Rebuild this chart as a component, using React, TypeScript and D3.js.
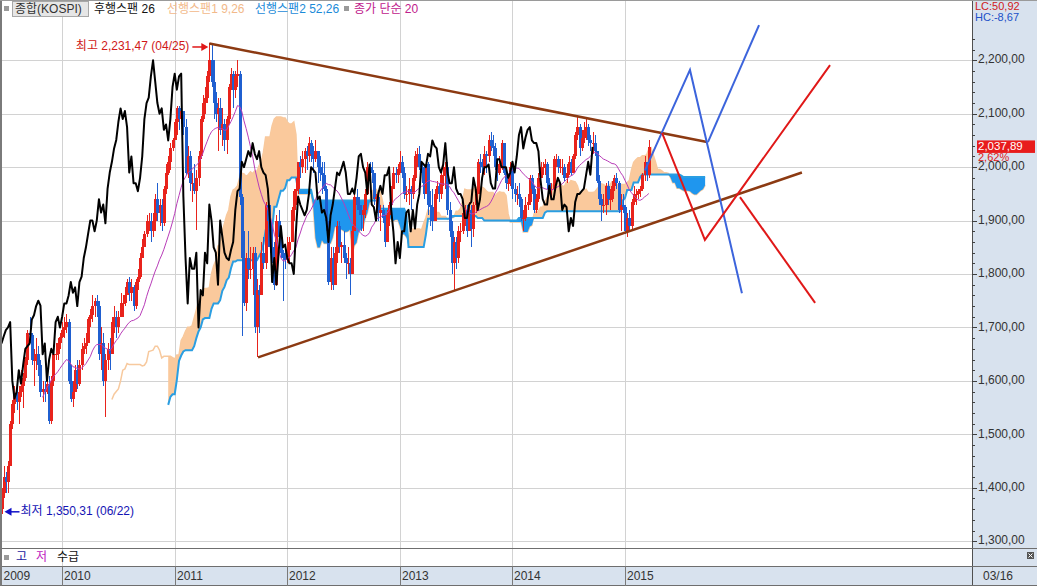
import React from 'react';
import * as d3 from 'd3';

// ---------- DATA (weekly KOSPI, from 2009-06-22) ----------
const START = new Date(2009, 5, 22);
const firstOpen = 1360;
const closes = [
  1390,1420,1410,1440,1520,1557,1575,1560,1580,1590,1605,1640,1690,1685,1640,1640,1650,1630,1580,1585,1580,1595,1525,1600,1650,1650,1670,1683,
  1695,1700,1710,1600,1567,1580,1620,1595,1630,1660,1665,1670,1715,1723,1740,1750,1741,1650,1670,1600,1640,1660,1650,1710,1720,1700,1720,1745,1745,1760,1785,1765,1775,1740,1785,1795,1830,1850,1875,1900,1900,1880,1900,1940,1915,1930,1895,1960,1990,2010,2035,2051,
  2085,2110,2090,2105,2075,1990,2020,1970,1970,1955,1980,2020,2090,2120,2130,2170,2200,2160,2120,2100,2110,2070,2080,2050,2090,2150,2175,2145,2170,2175,1945,1830,1745,1830,1810,1810,1840,1700,1770,1760,1840,1820,1930,1900,1850,1840,1780,1900,1870,1840,1830,1826,
  1845,1860,1920,1955,1960,2010,2000,2015,2030,2020,2045,2025,2015,2030,2000,1990,1985,1960,1900,1785,1830,1780,1840,1890,1850,1855,1830,1820,1820,1800,1880,1945,1930,1920,1910,1920,1950,2000,1995,1990,1940,1945,1915,1920,1905,1860,1910,1930,1960,1990,1985,1997,
  2010,1990,1950,1950,1960,1950,1980,2020,2025,2000,1990,1950,2005,1930,1925,1900,1950,1965,1950,1985,1985,2000,1920,1880,1820,1860,1830,1880,1880,1915,1920,1880,1920,1885,1930,1950,2010,2005,2000,2025,2020,2050,2040,2035,2000,1990,2005,2045,1990,1970,1970,2000,
  1960,1950,1950,1940,1905,1905,1930,1935,1980,1960,1920,1940,1980,2000,2000,2005,1970,1960,1960,2015,2015,2000,2000,2000,1980,1990,2010,1990,2020,2060,2075,2035,2055,2070,2075,2050,2045,2045,2030,1975,1940,1930,1930,1965,1940,1940,1965,1980,1970,1920,1930,1925,
  1880,1905,1890,1935,1950,1950,1955,1960,1985,2010,1986,2037.89,
];
const highs = [
  1400,1440,1430,1450,1525,1565,1590,1585,1590,1620,1615,1645,1695,1720,1690,1660,1680,1665,1640,1600,1600,1620,1610,1610,1655,1670,1680,1690,
  1710,1720,1725,1715,1630,1600,1630,1640,1640,1670,1680,1690,1720,1735,1760,1755,1760,1750,1700,1690,1650,1670,1680,1720,1740,1730,1730,1765,1760,1775,1790,1795,1790,1780,1790,1810,1840,1865,1880,1910,1915,1915,1915,1950,1970,1940,1940,1965,2005,2020,2045,2055,
  2090,2115,2115,2120,2105,2090,2040,2030,1990,2005,1995,2030,2095,2135,2150,2180,2231.47,2230,2200,2140,2130,2130,2110,2090,2095,2155,2185,2180,2180,2200,2180,1950,1880,1840,1880,1850,1850,1850,1790,1780,1860,1870,1935,1940,1930,1890,1860,1910,1920,1880,1845,1850,
  1870,1870,1925,1960,1980,2010,2020,2030,2035,2040,2057,2050,2040,2050,2030,2020,2010,2010,1965,1900,1850,1850,1850,1900,1900,1860,1880,1840,1850,1830,1890,1950,1960,1945,1930,1930,1960,2010,2010,2010,1990,1950,1950,1930,1930,1910,1920,1935,1965,2000,2000,2005,
  2030,2020,2000,1965,1980,1965,1985,2030,2035,2040,2010,2000,2015,2010,1955,1960,1960,1975,1970,1995,2010,2010,2010,1935,1900,1870,1870,1890,1895,1920,1930,1930,1935,1930,1935,1960,2015,2025,2015,2040,2030,2060,2065,2060,2045,2015,2020,2050,2045,2000,1985,2010,
  2010,1970,1965,1970,1945,1920,1945,1950,1985,1985,1965,1950,1990,2010,2010,2015,2010,1980,1970,2020,2025,2020,2015,2015,2005,2005,2020,2015,2025,2065,2093,2080,2070,2085,2090,2080,2060,2065,2060,2030,1985,1950,1950,1970,1975,1960,1975,1985,1990,1975,1950,1950,
  1930,1915,1920,1940,1965,1960,1960,1965,1990,2020,2005,2050,
];
const lows = [
  1350.31,1380,1390,1390,1440,1510,1540,1545,1520,1570,1550,1600,1630,1670,1630,1590,1620,1610,1570,1560,1560,1575,1520,1520,1590,1640,1640,1660,
  1680,1680,1690,1595,1560,1552,1580,1585,1590,1620,1650,1650,1670,1700,1710,1720,1720,1640,1620,1590,1532,1620,1620,1650,1690,1680,1690,1720,1720,1740,1760,1750,1750,1730,1735,1770,1790,1830,1850,1870,1880,1860,1870,1880,1900,1890,1880,1890,1950,1985,1995,2030,
  2050,2060,2070,2080,2060,1985,1980,1955,1935,1950,1882,1965,2015,2085,2100,2120,2160,2150,2090,2085,2030,2060,2040,2030,2025,2080,2145,2110,2130,2150,1930,1684,1740,1730,1790,1790,1760,1690,1644,1690,1770,1810,1810,1850,1840,1820,1770,1790,1850,1830,1750,1810,
  1820,1820,1860,1900,1930,1950,1980,1990,1990,1995,2010,2010,1990,2010,1970,1975,1950,1955,1880,1780,1770,1770,1780,1820,1840,1820,1820,1790,1800,1760,1800,1880,1920,1910,1880,1880,1905,1980,1970,1970,1930,1915,1900,1880,1895,1850,1870,1890,1925,1960,1970,1970,
  1990,1980,1940,1935,1930,1920,1940,1975,2000,1995,1970,1940,1950,1910,1890,1880,1900,1940,1935,1940,1965,1960,1910,1870,1800,1770,1810,1820,1860,1875,1890,1870,1880,1850,1870,1915,1950,1990,1990,1985,1990,2010,2030,2020,1995,1975,1985,1995,1985,1960,1955,1965,
  1940,1935,1930,1925,1900,1880,1900,1920,1930,1950,1915,1915,1935,1980,1985,1985,1960,1950,1940,1955,2000,1990,1990,1985,1975,1970,1985,1985,1990,2015,2050,2020,2030,2045,2050,2040,2030,2025,2020,1970,1930,1900,1915,1910,1930,1920,1935,1955,1960,1915,1880,1915,
  1875,1870,1880,1885,1930,1930,1940,1945,1955,1975,1975,1980,
];

const priceTicks = [1300, 1400, 1500, 1600, 1700, 1800, 1900, 2000, 2100, 2200];
const yearLabels = ['2009', '2010', '2011', '2012', '2013', '2014', '2015'];
const lastDateLabel = '03/16';
const highLabel = '최고 2,231,47 (04/25)';
const lowLabel = '최저 1,350,31 (06/22)';
const highWeek = 96;
const lowWeek = 0;
const lcText = 'LC:50,92';
const hcText = 'HC:-8,67';
const changeText = '2,62%';
const legendItems = [
  { text: '후행스팬 26', color: '#111111', x: 94 },
  { text: '선행스팬1 9,26', color: '#f2b98a', x: 167 },
  { text: '선행스팬2 52,26', color: '#1a8ad8', x: 255 },
  { text: '종가 단순 20', color: '#c0208c', x: 354 },
];
// user-drawn lines: [week index, price]
const trendLines = [
  { color: '#8c3a12', width: 2.5, pts: [[96, 2231.47], [325.9, 2047]] },
  { color: '#8c3a12', width: 2.5, pts: [[118.5, 1644], [369.7, 1990]] },
  { color: '#3c64dc', width: 2, pts: [[297.2, 1994], [318, 2182], [342, 1764]] },
  { color: '#3c64dc', width: 2, pts: [[326.3, 2047], [349.9, 2266]] },
  { color: '#e01818', width: 2, pts: [[305.1, 2064], [324.9, 1864], [382.7, 2191]] },
  { color: '#e01818', width: 2, pts: [[341.1, 1944], [375.8, 1746]] },
];

// ---------- LAYOUT ----------
const W = 1037, H = 586;
const PLOT_L = 2, PLOT_R = 972, PLOT_B = 548, SUB_B = 566;
const FONT = '"Liberation Sans", Arial, "Noto Sans CJK KR", sans-serif';
const RED = '#e8231c', BLUE = '#1f5fd0';

export default function App() {
  const n = closes.length;
  const x = d3.scaleLinear().domain([0, 100]).range([1.5, 1.5 + 216.5]);
  const y = d3.scaleLinear().domain([1300, 2200]).range([541.2, 60.3]);

  const opens = closes.map((c, i) => (i === 0 ? firstOpen : closes[i - 1]));
  const hi = (a: number, b: number) => d3.max(highs.slice(a, b + 1)) as number;
  const lo = (a: number, b: number) => d3.min(lows.slice(a, b + 1)) as number;

  // Ichimoku
  const span1: { j: number; v: number }[] = [];
  const span2 = new Map<number, number>();
  for (let i = 25; i < n; i++) {
    const t = (hi(i - 8, i) + lo(i - 8, i)) / 2;
    const k = (hi(i - 25, i) + lo(i - 25, i)) / 2;
    span1.push({ j: i + 26, v: (t + k) / 2 });
  }
  for (let i = 51; i < n; i++) span2.set(i + 26, (hi(i - 51, i) + lo(i - 51, i)) / 2);
  const cloud = span1.filter((d) => span2.has(d.j)).map((d) => ({ j: d.j, s1: d.v, s2: span2.get(d.j) as number }));

  const peachArea = d3.area<any>().x((d) => x(d.j)).y0((d) => y(d.s2)).y1((d) => y(Math.max(d.s1, d.s2)))(cloud) || '';
  const blueArea = d3.area<any>().x((d) => x(d.j)).y0((d) => y(d.s2)).y1((d) => y(Math.min(d.s1, d.s2)))(cloud) || '';
  const span1Path = d3.line<any>().x((d) => x(d.j)).y((d) => y(d.v))(span1) || '';
  const span2Path = d3.line<any>().x((d) => x(d.j)).y((d) => y(d.s2))(cloud) || '';

  const chikou = closes.slice(26).map((c, k) => ({ j: k, v: c }));
  const chikouPath = d3.line<any>().x((d) => x(d.j)).y((d) => y(d.v))(chikou) || '';

  const ma: { j: number; v: number }[] = [];
  for (let i = 19; i < n; i++) ma.push({ j: i, v: d3.mean(closes.slice(i - 19, i + 1)) as number });
  const maPath = d3.line<any>().x((d) => x(d.j)).y((d) => y(d.v))(ma) || '';

  // year boundaries
  const yearOf = (i: number) => d3.timeDay.offset(START, 7 * i + 3).getFullYear();
  const yearPos: { label: string; px: number }[] = [{ label: yearLabels[0], px: PLOT_L }];
  for (let i = 1; i < n; i++) {
    if (yearOf(i) !== yearOf(i - 1)) {
      const lab = yearLabels.find((l) => +l === yearOf(i));
      if (lab) yearPos.push({ label: lab, px: Math.round(x(i)) + 0.5 });
    }
  }

  const fmt = (v: number) => d3.format(',.2f')(v).replace('.', ',');
  const minorTicks = d3.range(1280, 2260, 20).filter((v) => y(v) > 34 && y(v) < PLOT_B - 2);

  const lastClose = closes[n - 1];
  const hx = x(highWeek), hy = y(highs[highWeek]) + 3.5;
  const lx = x(lowWeek), ly = y(lows[lowWeek]) - 2.5;

  return (
    <svg width={W} height={H} style={{ position: 'absolute', left: 0, top: 0, background: '#fff', fontFamily: FONT }}>
      <defs>
        <clipPath id="plot"><rect x={PLOT_L} y={0} width={PLOT_R - PLOT_L} height={PLOT_B} /></clipPath>
      </defs>
      <rect x={0} y={0} width={W} height={H} fill="#fff" />
      {/* right panel & bottom band */}
      <rect x={PLOT_R} y={0} width={W - PLOT_R} height={H} fill="#d8e2ee" />
      <rect x={0} y={SUB_B} width={W} height={H - SUB_B} fill="#d8e2ee" />

      {/* grid */}
      <g stroke="#d2d2d2" strokeWidth={1} shapeRendering="crispEdges">
        {priceTicks.map((v) => (
          <line key={v} x1={PLOT_L} x2={PLOT_R} y1={Math.round(y(v)) + 0.5} y2={Math.round(y(v)) + 0.5} />
        ))}
        {yearPos.slice(1).map((d) => (
          <line key={d.label} x1={d.px} x2={d.px} y1={0} y2={SUB_B} />
        ))}
      </g>

      <g clipPath="url(#plot)">
        {/* cloud */}
        <path d={span1Path} fill="none" stroke="#f7c99e" strokeWidth={1.5} />
        <path d={peachArea} fill="#fac99c" />
        <path d={blueArea} fill="#1f96ee" />
        <path d={span2Path} fill="none" stroke="#2a9ee2" strokeWidth={2} />

        {/* candles */}
        <g shapeRendering="crispEdges">
          {closes.map((c, i) => {
            const o = opens[i];
            const h = Math.max(highs[i], o, c), l = Math.min(lows[i], o, c);
            const cx = Math.round(x(i));
            const col = c >= o ? RED : BLUE;
            const top = y(Math.max(o, c)), bot = y(Math.min(o, c));
            return (
              <g key={i}>
                <line x1={cx + 0.5} x2={cx + 0.5} y1={y(h)} y2={y(l)} stroke={col} strokeWidth={1} />
                <rect x={cx - 1} y={top} width={3} height={Math.max(1, bot - top)} fill={col} />
              </g>
            );
          })}
        </g>

        <path d={maPath} fill="none" stroke="#b83cb8" strokeWidth={1} />
        <path d={chikouPath} fill="none" stroke="#000" strokeWidth={2} strokeLinejoin="round" />

        {trendLines.map((t, k) => (
          <path
            key={k}
            d={d3.line<number[]>().x((p) => x(p[0])).y((p) => y(p[1]))(t.pts) || ''}
            fill="none"
            stroke={t.color}
            strokeWidth={t.width}
          />
        ))}
      </g>

      {/* high / low annotations */}
      <text x={hx - 20} y={hy} fontSize={12} fill="#d01818" textAnchor="end" dominantBaseline="middle">{highLabel}</text>
      <line x1={hx - 17} x2={hx - 6} y1={hy} y2={hy} stroke="#e01818" strokeWidth={1.5} />
      <path d={`M${hx - 1},${hy} L${hx - 8},${hy - 4} L${hx - 8},${hy + 4} Z`} fill="#e01818" />
      <path d={`M${lx + 3},${ly} L${lx + 10},${ly - 4} L${lx + 10},${ly + 4} Z`} fill="#1010c8" />
      <line x1={lx + 8} x2={lx + 18} y1={ly} y2={ly} stroke="#1010c8" strokeWidth={1.5} />
      <text x={lx + 19} y={ly} fontSize={12} fill="#1414b4" dominantBaseline="middle">{lowLabel}</text>

      {/* legend */}
      <rect x={4} y={6} width={5} height={5} fill="#9a9a9a" />
      <rect x={12.5} y={1.5} width={76} height={15} fill="#e6e6e6" stroke="#a8a8a8" />
      <text x={15} y={9.5} fontSize={12} fill="#333" dominantBaseline="middle">종합(KOSPI)</text>
      {legendItems.map((d) => (
        <text key={d.text} x={d.x} y={9.5} fontSize={12} fill={d.color} dominantBaseline="middle">{d.text}</text>
      ))}
      <rect x={344} y={6} width={5} height={5} fill="#9a9a9a" />

      {/* right axis */}
      <line x1={PLOT_R + 0.5} x2={PLOT_R + 0.5} y1={0} y2={H} stroke="#505050" />
      <g stroke="#404040" shapeRendering="crispEdges">
        {minorTicks.map((v) => (
          <line key={v} x1={PLOT_R} x2={PLOT_R + (v % 100 === 0 ? 5 : 3)} y1={Math.round(y(v)) + 0.5} y2={Math.round(y(v)) + 0.5} />
        ))}
      </g>
      {priceTicks.map((v) => (
        <text key={v} x={PLOT_R + 6} y={y(v)} fontSize={12} fill="#333" dominantBaseline="middle">{fmt(v)}</text>
      ))}
      <text x={975} y={7} fontSize={11} fill="#d02020" dominantBaseline="middle">{lcText}</text>
      <text x={975} y={18.5} fontSize={11} fill="#2050c8" dominantBaseline="middle">{hcText}</text>
      <rect x={977} y={y(lastClose) - 6.5} width={58} height={12.5} fill="#e81c1c" />
      <text x={978} y={y(lastClose)} fontSize={11.5} fill="#fff" dominantBaseline="middle">{fmt(lastClose)}</text>
      <text x={978} y={y(lastClose) + 11} fontSize={11} fill="#e01818" dominantBaseline="middle">{changeText}</text>

      {/* sub panel */}
      <line x1={0} x2={W} y1={PLOT_B + 0.5} y2={PLOT_B + 0.5} stroke="#6e6e6e" />
      <line x1={0} x2={W} y1={SUB_B + 0.5} y2={SUB_B + 0.5} stroke="#6e6e6e" />
      <line x1={0} x2={W} y1={H - 0.5} y2={H - 0.5} stroke="#6e6e6e" />
      <rect x={PLOT_R + 1} y={PLOT_B + 1} width={W - PLOT_R - 1} height={SUB_B - PLOT_B - 1} fill="#d8e2ee" />
      <rect x={4} y={555} width={5} height={5} fill="#9a9a9a" />
      <text x={16} y={558} fontSize={12} fill="#1a1aa0" dominantBaseline="middle">고</text>
      <text x={36} y={558} fontSize={12} fill="#c020c0" dominantBaseline="middle">저</text>
      <text x={57} y={558} fontSize={12} fill="#111" dominantBaseline="middle">수급</text>
      <rect x={1027} y={552} width={7} height={7} fill="#555" />
      <path d="M1028.5,553.5 L1032.5,557.5 M1032.5,553.5 L1028.5,557.5" stroke="#fff" strokeWidth={1} />

      {/* x axis band */}
      {yearPos.map((d) => (
        <g key={d.label}>
          {d.px > PLOT_L + 1 && <line x1={d.px} x2={d.px} y1={SUB_B} y2={H} stroke="#7a7a7a" />}
          <text x={d.px + 1.5} y={576.5} fontSize={12} fill="#333" dominantBaseline="middle">{d.label}</text>
        </g>
      ))}
      <text x={983} y={576.5} fontSize={12} fill="#333" dominantBaseline="middle">{lastDateLabel}</text>

      {/* frame */}
      <rect x={0} y={0} width={2} height={H} fill="#7a7a7a" />
      <line x1={0} x2={W} y1={0.5} y2={0.5} stroke="#9a9a9a" />
    </svg>
  );
}
